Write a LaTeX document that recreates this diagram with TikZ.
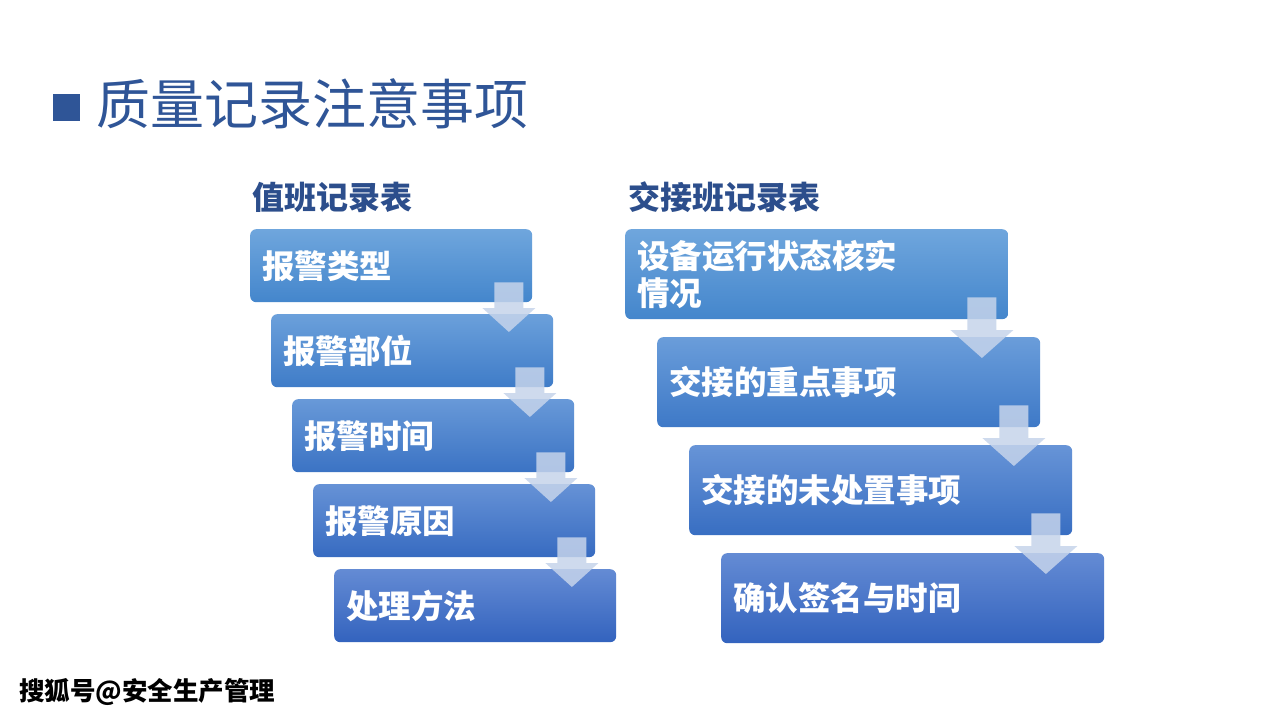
\documentclass[tikz,border=0pt]{standalone}
\usepackage{fontspec}
\setmainfont{Noto Sans CJK SC}
\usetikzlibrary{calc}
\definecolor{titleblue}{HTML}{2F5597}
\definecolor{headblue}{HTML}{2C4E8C}
\definecolor{arrowc}{HTML}{C6D4EB}
\definecolor{Lt1}{HTML}{6FA6DD}\definecolor{Lb1}{HTML}{4486CC}
\definecolor{Lt2}{HTML}{6BA0DB}\definecolor{Lb2}{HTML}{3F7CC8}
\definecolor{Lt3}{HTML}{6899D8}\definecolor{Lb3}{HTML}{3B73C4}
\definecolor{Lt4}{HTML}{6692D6}\definecolor{Lb4}{HTML}{376BC1}
\definecolor{Lt5}{HTML}{648BD4}\definecolor{Lb5}{HTML}{3363BE}
\definecolor{Rt1}{HTML}{6FA6DD}\definecolor{Rb1}{HTML}{4486CC}
\definecolor{Rt2}{HTML}{6A9DDA}\definecolor{Rb2}{HTML}{3E79C7}
\definecolor{Rt3}{HTML}{6794D7}\definecolor{Rb3}{HTML}{386EC2}
\definecolor{Rt4}{HTML}{648BD4}\definecolor{Rb4}{HTML}{3363BE}
\newcommand{\blkarrow}[6]{%
  \fill[arrowfill] let \p1=(#1.south east), \p2=(#2.north) in
   (\x1-#3-14.5,\y1+#4) -- (\x1-#3+14.5,\y1+#4) -- (\x1-#3+14.5,\y2+#5)
   -- (\x1-#3+#6,\y2+#5) -- (\x1-#3,\y2-#5*3) -- (\x1-#3-#6,\y2+#5)
   -- (\x1-#3-14.5,\y2+#5) -- cycle;}
\begin{document}
\begin{tikzpicture}[x=1pt,y=-1pt,
  lbox/.style={rounded corners=6pt, anchor=north west, minimum width=282pt,
     minimum height=73pt, inner xsep=12pt, text width=258pt, align=left,
     text=white, font=\fontsize{32.5}{37}\selectfont\bfseries,
     top color=Lt#1, bottom color=Lb#1},
  rbox/.style={rounded corners=6pt, anchor=north west, minimum width=383pt,
     minimum height=90pt, inner xsep=12pt, text width=359pt, align=left,
     text=white, font=\fontsize{32.5}{37}\selectfont\bfseries,
     top color=Rt#1, bottom color=Rb#1},
  arrowfill/.style={fill=arrowc, fill opacity=0.85},
  header/.style={anchor=west, text=headblue, inner sep=0pt,
     font=\fontsize{32}{37}\selectfont\bfseries}]
\path[use as bounding box, fill=white] (0,0) rectangle (1280,720);
% title
\fill[titleblue] (53,94) rectangle (80,121);
\node[anchor=west, inner sep=0pt, text=titleblue, font=\fontsize{54}{60}\selectfont] (title) at (96,104) {质量记录注意事项};
% headers
\node[header] (hl) at (252,197) {值班记录表};
\node[header] (hr) at (628,197) {交接班记录表};
% left column
\node[lbox=1] (l1) at (250,229) {报警类型};
\node[lbox=2] (l2) at (271,314) {报警部位};
\node[lbox=3] (l3) at (292,399) {报警时间};
\node[lbox=4] (l4) at (313,484) {报警原因};
\node[lbox=5] (l5) at (334,569) {处理方法};
\blkarrow{l1}{l2}{23.5}{20}{6}{26.5}
\blkarrow{l2}{l3}{23.5}{20}{6}{26.5}
\blkarrow{l3}{l4}{23.5}{20}{6}{26.5}
\blkarrow{l4}{l5}{23.5}{20}{6}{26.5}
% right column
\node[rbox=1] (r1) at (625,229) {设备运行状态核实\\情况};
\node[rbox=2] (r2) at (657,337) {交接的重点事项};
\node[rbox=3] (r3) at (689,445) {交接的未处置事项};
\node[rbox=4] (r4) at (721,553) {确认签名与时间};
\blkarrow{r1}{r2}{26.5}{22}{7}{31.5}
\blkarrow{r2}{r3}{26.5}{22}{7}{31.5}
\blkarrow{r3}{r4}{26.5}{22}{7}{31.5}
% footer
\node[anchor=west, inner sep=0pt, text=black, font=\fontsize{25.5}{28}\selectfont\bfseries] (foot) at (19,692) {搜狐号@安全生产管理};
\end{tikzpicture}
\end{document}
